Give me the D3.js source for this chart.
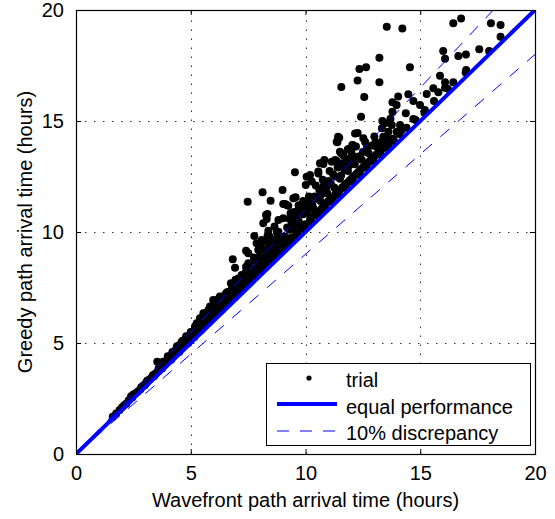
<!DOCTYPE html>
<html>
<head>
<meta charset="utf-8">
<script src="https://cdn.jsdelivr.net/npm/d3@7/dist/d3.min.js"></script>
<style>
    html, body { margin: 0; padding: 0; background: #fff; }
    svg text { font-family: "Liberation Sans", Arial, sans-serif; fill: #000; }
</style>
</head>
<body>
<div id="chart"></div>
<script>
// wavefront (x) vs greedy (y) arrival time, hours
var trials = [
    [1.6,1.68],[1.75,1.82],[1.9,1.98],[2.0,2.1],[2.1,2.2],[2.2,2.28],[2.3,2.42],[2.45,2.55],[2.5,2.68],[2.6,2.74],
    [2.7,2.82],[2.8,2.9],[2.85,3.02],[2.95,3.1],[3.05,3.2],[3.1,3.3],[3.2,3.36],[3.3,3.45],[3.35,3.55],[3.45,3.62],
    [3.55,3.7],[3.6,3.85],[3.54,4.16],[3.7,3.9],[3.8,3.98],[3.9,4.1],[3.95,4.2],[4.05,4.3],[4.1,4.4],[4.2,4.45],
    [4.3,4.55],[4.35,4.7],[4.45,4.75],[4.5,4.9],[4.6,4.85],[4.65,5.1],[4.75,5.05],[4.8,5.2],[4.9,5.15],[4.95,5.35],
    [5.05,5.45],[5.1,5.3],[5.2,5.6],[5.25,5.5],[5.35,5.75],[5.4,5.6],[5.19,5.73],[5.26,5.89],[5.4,6.11],[5.5,5.8],
    [5.55,6.34],[5.62,6.34],[5.6,5.95],[5.7,6.1],[5.77,6.49],[5.8,6.05],[5.84,6.64],[5.91,6.64],[5.9,6.3],[6.0,6.25],
    [6.0,6.6],[6.1,6.45],[5.98,6.94],[6.2,6.98],[6.2,6.6],[6.27,7.09],[6.3,6.7],[6.4,6.75],[6.49,7.16],[6.5,6.9],
    [6.6,7.0],[6.7,7.2],[6.75,7.69],[6.8,7.1],[6.83,8.77],[6.93,8.39],[6.9,7.4],[7.0,7.3],[7.07,7.91],[7.1,7.6],
    [7.15,7.76],[7.2,7.5],[7.22,8.06],[7.3,7.8],[7.4,7.7],[7.41,8.44],[7.41,9.16],[7.51,9.04],[7.51,8.59],[7.48,11.36],
    [7.5,8.0],[7.6,7.9],[7.7,8.3],[7.77,9.82],[7.8,8.1],[7.87,9.49],[7.94,9.19],[7.9,8.6],[8.0,8.3],[8.02,9.34],
    [8.09,9.64],[8.1,8.8],[8.13,11.79],[8.16,10.39],[8.2,8.55],[8.28,10.77],[8.31,9.56],[8.31,10.59],[8.34,10.81],[8.38,10.06],
    [8.3,9.0],[8.4,8.7],[8.45,9.79],[8.48,11.41],[8.5,9.2],[8.6,8.9],[8.67,9.49],[8.7,9.3],[8.75,10.01],[8.8,9.1],
    [8.82,10.54],[8.82,10.01],[8.9,9.6],[8.96,9.64],[9.0,11.89],[9.0,9.35],[9.03,10.62],[9.03,11.26],[9.1,9.8],[9.11,11.26],
    [9.18,11.22],[9.2,9.5],[9.25,11.18],[9.3,10.1],[9.4,9.75],[9.47,11.52],[9.5,10.3],[9.54,12.69],[9.57,11.56],[9.6,9.95],
    [9.7,10.5],[9.8,10.15],[9.9,10.8],[10.0,10.35],[10.01,12.12],[10.1,11.0],[10.2,12.57],[10.2,10.55],[10.3,11.2],[10.4,10.75],
    [10.5,11.5],[10.56,12.64],[10.6,10.95],[10.7,11.7],[10.78,13.06],[10.8,11.15],[10.82,13.24],[10.9,12.0],[11.0,11.4],[11.1,12.2],
    [11.2,11.55],[11.29,13.24],[11.3,12.5],[11.36,14.07],[11.39,14.04],[11.47,14.25],[11.4,11.8],[11.5,13.62],[11.55,13.55],[11.56,16.53],
    [11.5,12.4],[11.6,12.0],[11.7,12.8],[11.8,12.2],[11.87,13.74],[11.9,13.0],[12.0,12.4],[12.04,13.92],[12.06,13.92],[12.08,13.39],
    [12.1,13.2],[12.2,12.6],[12.27,14.46],[12.27,16.82],[12.35,17.34],[12.3,13.4],[12.4,12.8],[12.42,15.19],[12.5,13.6],[12.52,14.22],
    [12.56,16.08],[12.6,13.0],[12.64,17.42],[12.67,13.77],[12.7,13.8],[12.8,13.2],[12.9,13.9],[13.0,13.4],[13.1,13.92],[13.1,13.84],
    [13.2,13.6],[13.22,17.85],[13.22,16.74],[13.33,14.67],[13.39,14.29],[13.4,13.8],[13.46,14.9],[13.54,19.25],[13.54,14.22],[13.61,14.52],
    [13.61,13.92],[13.76,14.82],[13.79,15.84],[13.79,15.42],[13.83,14.14],[13.8,14.2],[13.97,15.72],[13.97,14.52],[14.04,16.1],[14.12,14.82],
    [14.19,14.59],[14.22,19.17],[14.37,15.35],[14.48,16.2],[14.55,17.42],[14.7,15.9],[14.7,15.09],[14.99,15.72],[15.18,15.37],[15.28,16.22],
    [15.57,16.47],[15.79,16.29],[15.86,17.04],[16.0,18.15],[16.08,17.8],[16.08,16.74],[16.08,16.5],[16.44,16.74],[16.44,19.4],[16.66,17.93],
    [16.78,19.62],[16.98,17.19],[16.99,18.0],[17.57,18.23],[18.0,18.15],[18.08,19.4],[18.5,19.32],[18.5,18.8],
    [9.2,10.2],[9.4,10.4],[9.6,10.7],[9.8,11.0],[10.0,11.1],[10.2,11.3],[10.4,11.6],[10.6,11.9],[10.8,12.1],[11.0,12.3],
    [11.2,12.6],[11.4,12.9],[11.6,13.1],[11.8,13.3],[12.0,13.6],[10.3,10.7],[10.5,10.85],[10.7,11.05],[10.9,11.3],[11.1,11.5],
    [11.3,11.7],[11.5,11.9],[11.7,12.1],[11.9,12.3],[12.1,12.5],[12.3,12.7],[12.5,12.9],[12.7,13.1],[12.9,13.3],[13.1,13.5],
    [13.3,13.7],[11.42,14.29],[12.16,14.44],[11.84,13.72],[10.56,12.72],[10.63,13.1],[11.14,13.17],[10.05,12.49],[10.27,12.27],[9.3,10.6],
    [9.5,10.9],[9.7,11.2],[9.9,11.4],[8.6,9.6],[8.8,9.8],[8.4,9.4],[8.2,9.2],[8.0,8.9],[7.8,8.7],[7.6,8.4],
    [7.4,8.2],[7.2,7.95],[7.0,7.75],[6.8,7.5],[6.6,7.3],[6.4,7.05],[6.2,6.85],[6.0,6.65],[5.8,6.4],[5.6,6.2],
    [5.4,5.95],[5.2,5.75],[5.0,5.5],[4.8,5.3],[4.6,5.05],[4.4,4.85],[4.2,4.6],[4.0,4.4],[3.8,4.15],[2.4,2.6],
    [3.0,3.1],[3.4,3.5],[3.75,3.85],[4.15,4.25],[4.5,4.6],[4.85,4.97],[5.15,5.27],[5.45,5.58],[5.75,5.9],[6.05,6.2],
    [6.35,6.5],[6.65,6.8],[6.95,7.1],[7.25,7.42],[7.55,7.72],[7.85,8.02],[8.15,8.33],[8.45,8.63],[8.75,8.94],[9.05,9.25],
    [9.35,9.55],[9.65,9.85],[9.95,10.16],[10.25,10.46],[10.55,10.77],[10.85,11.07],[11.15,11.37],[11.45,11.68],[11.75,11.98],[12.05,12.28],
    [12.35,12.58],[12.65,12.9],[12.95,13.2],[13.25,13.5],[13.55,13.8],[13.85,14.1],[14.1,14.4],[14.4,14.7],[14.8,15.05],[15.2,15.5],
    [15.6,15.9],[16.2,16.45],[17.0,17.3],
    [7.35,7.95],[7.65,8.25],[7.95,8.45],[8.25,8.9],[8.55,9.05],[8.85,9.5],[9.15,9.7],[9.45,10.15],[9.75,10.35],[10.05,10.85],
    [10.35,11.05],[10.65,11.4],[10.95,11.75],[11.25,12.0],[11.55,12.55],[11.85,12.75],[12.15,13.05],[12.45,13.25],[12.75,13.55],[13.05,14.05],
    [13.35,14.1],[6.55,7.25],[6.85,7.65],[6.15,6.75],[5.65,6.15],[5.95,6.5],[6.95,7.85],[7.75,8.85],[8.05,9.45],[8.35,9.85],
    [8.65,10.25],[9.35,10.85],[9.65,10.95],[10.15,11.6],[10.45,12.1],[10.75,12.35],[11.05,12.75],[11.35,13.2],[11.65,13.45],[12.2,13.85],
    [12.6,14.05],[13.0,14.3],[13.35,15.0],[13.7,15.1]
];

var xTicks = [0, 5, 10, 15, 20],
    yTicks = [0, 5, 10, 15, 20],
    xLabel = "Wavefront path arrival time (hours)",
    yLabel = "Greedy path arrival time (hours)",
    legendLabels = ["trial", "equal performance", "10% discrepancy"],
    // y = ratio * x, drawn over the whole axis
    equalRatio = 1,
    discrepancyRatios = [1.1, 0.9];

(function () {
    var width = 555,
        height = 519,
        box = { left: 76, right: 535, top: 10, bottom: 454 };

    var svg = d3.select("#chart").append("svg")
        .attr("width", width)
        .attr("height", height);

    var x = d3.scaleLinear().domain([0, 20]).range([box.left, box.right]);
    var y = d3.scaleLinear().domain([0, 20]).range([box.bottom, box.top]);

    // dotted grid
    var grid = svg.append("g").attr("stroke", "#333").attr("stroke-width", 1).attr("stroke-dasharray", "1.5,7.5");
    grid.selectAll("line.gx").data(xTicks.slice(1, -1)).enter().append("line")
        .attr("x1", function (d) { return Math.round(x(d)) + 0.5; })
        .attr("x2", function (d) { return Math.round(x(d)) + 0.5; })
        .attr("y1", box.bottom).attr("y2", box.top);
    grid.selectAll("line.gy").data(yTicks.slice(1, -1)).enter().append("line")
        .attr("y1", function (d) { return Math.round(y(d)) + 0.5; })
        .attr("y2", function (d) { return Math.round(y(d)) + 0.5; })
        .attr("x1", box.left).attr("x2", box.right);

    svg.append("clipPath").attr("id", "clip").append("rect")
        .attr("x", box.left).attr("y", box.top)
        .attr("width", box.right - box.left).attr("height", box.bottom - box.top);

    var plot = svg.append("g").attr("clip-path", "url(#clip)");

    plot.selectAll("circle").data(trials).enter().append("circle")
        .attr("cx", function (d) { return x(d[0]); })
        .attr("cy", function (d) { return y(d[1]); })
        .attr("r", 4)
        .attr("fill", "#000");

    var lineEnd = function (ratio) {
        // stop where the line leaves the box
        var xe = Math.min(20, 20 / ratio);
        return [[0, 0], [xe, xe * ratio]];
    };
    var path = d3.line().x(function (d) { return x(d[0]); }).y(function (d) { return y(d[1]); });

    plot.append("path").attr("d", path(lineEnd(equalRatio)))
        .attr("stroke", "#0000ff").attr("stroke-width", 4).attr("fill", "none");

    discrepancyRatios.forEach(function (r) {
        plot.append("path").attr("d", path(lineEnd(r)))
            .attr("stroke", "#0000ff").attr("stroke-width", 1)
            .attr("stroke-dasharray", "12,11").attr("fill", "none");
    });

    // axes: MATLAB-style inward ticks on all four sides
    var xAxis = svg.append("g").attr("transform", "translate(0," + box.bottom + ")")
        .call(d3.axisBottom(x).tickValues(xTicks).tickSizeInner(-5).tickSizeOuter(0).tickPadding(12));
    var yAxis = svg.append("g").attr("transform", "translate(" + box.left + ",0)")
        .call(d3.axisLeft(y).tickValues(yTicks).tickSizeInner(-5).tickSizeOuter(0).tickPadding(12));
    svg.append("g").attr("transform", "translate(0," + box.top + ")")
        .call(d3.axisTop(x).tickValues(xTicks).tickSizeInner(-5).tickSizeOuter(0).tickFormat(""));
    svg.append("g").attr("transform", "translate(" + box.right + ",0)")
        .call(d3.axisRight(y).tickValues(yTicks).tickSizeInner(-5).tickSizeOuter(0).tickFormat(""));

    svg.selectAll(".domain").remove();
    svg.selectAll(".tick line").attr("stroke", "#000");
    [xAxis, yAxis].forEach(function (a) {
        a.selectAll("text").attr("font-size", 20).attr("fill", "#000")
            .style("font-family", "'Liberation Sans', Arial, sans-serif");
    });

    svg.append("rect")
        .attr("x", box.left + 0.5).attr("y", box.top + 0.5)
        .attr("width", box.right - box.left).attr("height", box.bottom - box.top)
        .attr("fill", "none").attr("stroke", "#000").attr("stroke-width", 1.2);

    svg.append("text")
        .attr("x", (box.left + box.right) / 2).attr("y", 507)
        .attr("text-anchor", "middle").attr("font-size", 20)
        .text(xLabel);

    svg.append("text")
        .attr("transform", "translate(32," + (box.top + box.bottom) / 2 + ") rotate(-90)")
        .attr("text-anchor", "middle").attr("font-size", 20)
        .text(yLabel);

    // legend
    var legend = svg.append("g");
    legend.append("rect")
        .attr("x", 266.5).attr("y", 363.5).attr("width", 264).attr("height", 82)
        .attr("fill", "#fff").attr("stroke", "#000").attr("stroke-width", 1);

    legend.append("circle").attr("cx", 309).attr("cy", 378).attr("r", 2.6).attr("fill", "#000");
    legend.append("line").attr("x1", 277).attr("x2", 337).attr("y1", 404).attr("y2", 404)
        .attr("stroke", "#0000ff").attr("stroke-width", 4);
    legend.append("line").attr("x1", 277).attr("x2", 337).attr("y1", 431).attr("y2", 431)
        .attr("stroke", "#0000ff").attr("stroke-width", 1).attr("stroke-dasharray", "12,11");

    legend.selectAll("text").data(legendLabels).enter().append("text")
        .attr("x", 346)
        .attr("y", function (d, i) { return 387 + i * 26.5; })
        .attr("font-size", 20)
        .text(function (d) { return d; });
})();
</script>
</body>
</html>
